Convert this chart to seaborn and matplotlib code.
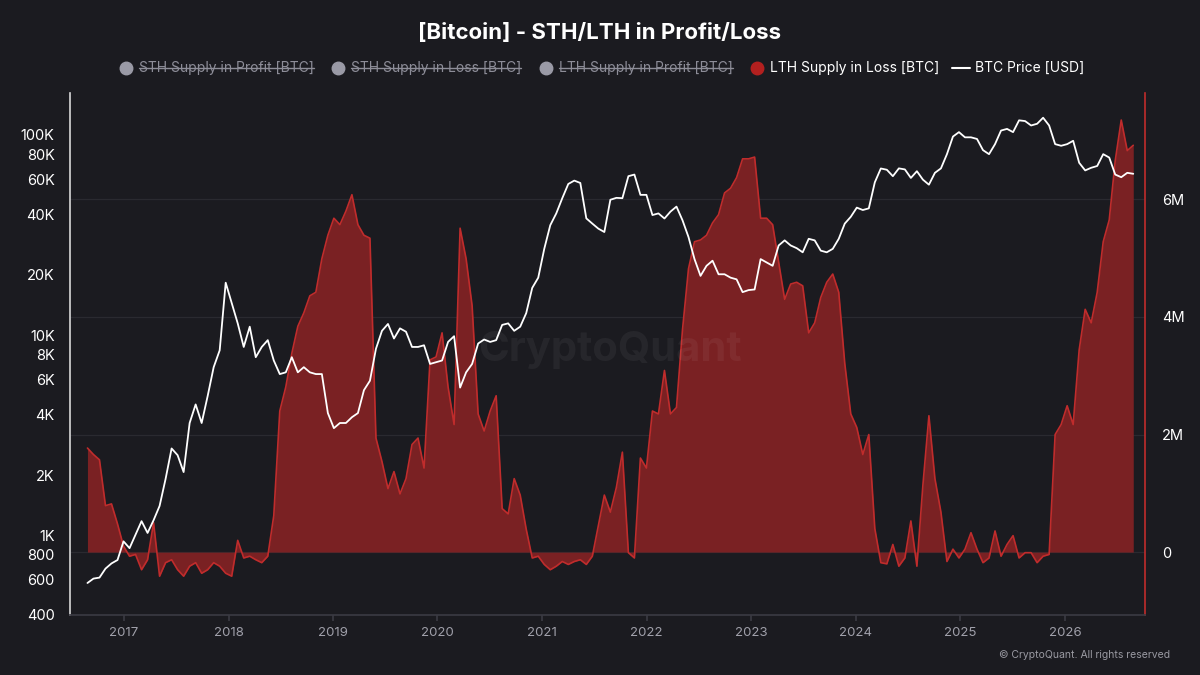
import numpy as np
import pandas as pd
import seaborn as sns
import matplotlib.pyplot as plt
from matplotlib.lines import Line2D
from matplotlib.ticker import FixedLocator, NullLocator

# muestras cada 21 dias desde finales de agosto de 2016
start_date = "2016-08-26"
step = "21D"

# LTH Supply in Loss, en millones de BTC
lth_loss_m = [
    1.77, 1.66, 1.57, 0.79, 0.82, 0.48, 0.10, -0.07, -0.04, -0.30,
    -0.13, 0.50, -0.41, -0.18, -0.13, -0.30, -0.41, -0.24, -0.18, -0.36,
    -0.30, -0.18, -0.24, -0.36, -0.41, 0.20, -0.10, -0.07, -0.13, -0.18,
    -0.07, 0.62, 2.40, 2.81, 3.38, 3.84, 4.07, 4.36, 4.42, 4.99,
    5.39, 5.68, 5.57, 5.80, 6.08, 5.57, 5.39, 5.34, 1.94, 1.54,
    1.08, 1.37, 0.99, 1.25, 1.83, 1.94, 1.43, 3.27, 3.32, 3.73,
    2.81, 2.17, 5.51, 4.99, 4.19, 2.35, 2.06, 2.40, 2.66, 0.74,
    0.65, 1.25, 0.97, 0.39, -0.10, -0.07, -0.21, -0.30, -0.24, -0.16,
    -0.21, -0.16, -0.13, -0.21, -0.07, 0.45, 0.97, 0.68, 1.10, 1.70,
    -0.01, -0.10, 1.60, 1.43, 2.40, 2.35, 3.09, 2.35, 2.46, 3.78,
    4.82, 5.28, 5.31, 5.39, 5.60, 5.74, 6.11, 6.19, 6.37, 6.69,
    6.69, 6.72, 5.68, 5.68, 5.57, 4.93, 4.30, 4.56, 4.59, 4.53,
    3.73, 3.90, 4.33, 4.59, 4.73, 4.42, 3.21, 2.35, 2.12, 1.66,
    2.00, 0.40, -0.18, -0.20, 0.13, -0.24, -0.10, 0.53, -0.24, 1.14,
    2.32, 1.25, 0.68, -0.16, 0.05, -0.10, 0.05, 0.33, 0.05, -0.18,
    -0.10, 0.36, -0.07, 0.13, 0.28, -0.10, -0.01, -0.01, -0.18, -0.07,
    -0.04, 2.00, 2.17, 2.49, 2.17, 3.44, 4.13, 3.90, 4.42, 5.28,
    5.65, 6.66, 7.35, 6.83, 6.92,
]

# BTC Price en USD
btc_price = [
    578, 608, 615, 682, 724, 753, 933, 863, 1008, 1177,
    1028, 1190, 1402, 1914, 2716, 2514, 2070, 3640, 4507, 3640,
    4966, 6918, 8400, 18280, 14460, 11450, 8730, 11020, 7760, 8730,
    9440, 7470, 6390, 6520, 7760, 6520, 6918, 6520, 6390, 6390,
    4080, 3430, 3640, 3640, 3890, 4080, 5310, 5920, 8550, 10510,
    11370, 9620, 10810, 10400, 8730, 8730, 8900, 7180, 7320, 7470,
    9250, 9880, 5470, 6520, 7180, 9080, 9510, 9250, 9440, 11250,
    11450, 10510, 11020, 12880, 17220, 19360, 26970, 35400, 40560, 48310,
    56900, 59150, 57560, 38300, 36070, 34040, 32740, 47450, 48500, 48310,
    62230, 63400, 50200, 50200, 39800, 40560, 38250, 41400, 43860, 37500,
    30900, 23980, 19770, 22200, 23540, 20140, 20140, 19370, 19000, 16400,
    16790, 16910, 23980, 23070, 22200, 28050, 29740, 28050, 27190, 25930,
    30290, 29740, 26430, 25930, 26980, 30290, 36070, 39000, 43350, 42170,
    42980, 58000, 68000, 67000, 62230, 68070, 67270, 61000, 65900, 59800,
    56440, 64690, 68070, 80170, 98160, 103300, 97300, 97300, 95500, 83960,
    80170, 89960, 105200, 107200, 103300, 118300, 117300, 111500, 113700, 121900,
    111500, 89960, 88300, 89960, 93500, 72600, 66500, 68550, 69970, 80170,
    77100, 63400, 61500, 64690, 63970,
]

price_ticks = [400, 600, 800, 1000, 2000, 4000, 6000, 8000, 10000, 20000, 40000, 60000, 80000, 100000]
price_labels = ["400", "600", "800", "1K", "2K", "4K", "6K", "8K", "10K", "20K", "40K", "60K", "80K", "100K"]
supply_ticks = [0, 2e6, 4e6, 6e6]
supply_labels = ["0", "2M", "4M", "6M"]
years = list(range(2017, 2027))

legend_off = ["STH Supply in Profit [BTC]", "STH Supply in Loss [BTC]", "LTH Supply in Profit [BTC]"]
legend_on = "LTH Supply in Loss [BTC]"
legend_price = "BTC Price [USD]"

bg = "#1b1b20"
red_line = "#c02c2c"
red_fill = "#7a2123"
grey_txt = "#8d8d98"

df = pd.DataFrame({
    "fecha": pd.date_range(start_date, periods=len(btc_price), freq=step),
    "lth_loss": np.array(lth_loss_m) * 1e6,
    "price": btc_price,
})

sns.set_theme(style="dark", rc={"axes.facecolor": bg, "figure.facecolor": bg})
plt.rcParams["font.family"] = ["Inter", "DejaVu Sans"]

fig = plt.figure(figsize=(12, 6.75), dpi=100)
ax = fig.add_axes([70 / 1200, 60 / 675, 1075 / 1200, 522 / 675])

# area roja (eje derecho)
ax.fill_between(df["fecha"], 0, df["lth_loss"], color=red_fill, lw=0, zorder=2)
sns.lineplot(data=df, x="fecha", y="lth_loss", ax=ax, color=red_line, lw=1.2, zorder=3)
ax.set_ylim(-1.07e6, 7.81e6)
ax.yaxis.set_major_locator(FixedLocator(supply_ticks))
ax.set_yticklabels(supply_labels)
ax.grid(axis="y", color="#2a2a30", lw=0.9)
ax.grid(axis="x", visible=False)
ax.set_xlabel("")
ax.set_ylabel("")

ax.set_xlim(pd.Timestamp("2016-06-26"), pd.Timestamp("2026-10-08"))
ax.set_xticks(pd.to_datetime([f"{y}-01-01" for y in years]))
ax.set_xticklabels([str(y) for y in years])

ax.spines["top"].set_visible(False)
ax.spines["left"].set_color("#d8d8d8")
ax.spines["left"].set_linewidth(1.2)
ax.spines["right"].set_color(red_line)
ax.spines["right"].set_linewidth(1.2)
ax.spines["bottom"].set_color("#3a3a42")

# precio (eje izquierdo, log)
ax2 = ax.twinx()
sns.lineplot(data=df, x="fecha", y="price", ax=ax2, color="white", lw=1.3)
ax2.set_yscale("log")
ax2.set_ylim(400, 162000)
ax2.yaxis.tick_left()
ax2.yaxis.set_major_locator(FixedLocator(price_ticks))
ax2.set_yticklabels(price_labels)
ax2.yaxis.set_minor_locator(NullLocator())
ax2.tick_params(axis="y", length=0, pad=11, labelcolor="white", labelsize=10.5)
ax2.set_ylabel("")
ax2.grid(False)
for s in ax2.spines.values():
    s.set_visible(False)

# twinx deja los ticks del eje rojo a la izquierda: moverlos a la derecha
ax.yaxis.tick_right()
ax.tick_params(axis="y", length=0, pad=12, labelcolor="white", labelsize=10.5)
ax.tick_params(axis="x", length=4, color="#3a3a42", labelcolor="#a0a0aa", labelsize=9.5, pad=5, bottom=True)

# marca de agua y textos
fig.text(0.508, 1 - 350 / 675, "CryptoQuant", ha="center", va="center", fontsize=30,
         color="white", alpha=0.05, fontweight="bold")
fig.text(1170 / 1200, 1 - 655 / 675, "© CryptoQuant. All rights reserved", ha="right", va="center",
         fontsize=7.5, color="#9a9aa2")
fig.text(0.5, 1 - 33 / 675, "[Bitcoin] - STH/LTH in Profit/Loss", ha="center", va="center",
         fontsize=16, fontweight="bold", color="white")

# leyenda manual
ly = 1 - 68 / 675
circle_x = [126, 338, 546]
text_x = [139, 351, 559]
fig.canvas.draw()
renderer = fig.canvas.get_renderer()
inv = fig.transFigure.inverted()
for cx, tx, lab in zip(circle_x, text_x, legend_off):
    fig.add_artist(Line2D([cx / 1200], [ly], marker="o", markersize=9, color="#9a9aa6",
                          lw=0, transform=fig.transFigure))
    t = fig.text(tx / 1200, ly, lab, ha="left", va="center", fontsize=10, color=grey_txt)
    bb = inv.transform(t.get_window_extent(renderer))
    fig.add_artist(Line2D([bb[0][0], bb[1][0]], [ly, ly], color=grey_txt, lw=1,
                          transform=fig.transFigure))

fig.add_artist(Line2D([757 / 1200], [ly], marker="o", markersize=9, color="#b3201f",
                      lw=0, transform=fig.transFigure))
fig.text(770 / 1200, ly, legend_on, ha="left", va="center", fontsize=10, color="white")
fig.add_artist(Line2D([952 / 1200, 970 / 1200], [ly, ly], color="white", lw=1.5,
                      transform=fig.transFigure))
fig.text(975 / 1200, ly, legend_price, ha="left", va="center", fontsize=10, color="white")

fig.savefig("out.png", dpi=100, facecolor=bg)
